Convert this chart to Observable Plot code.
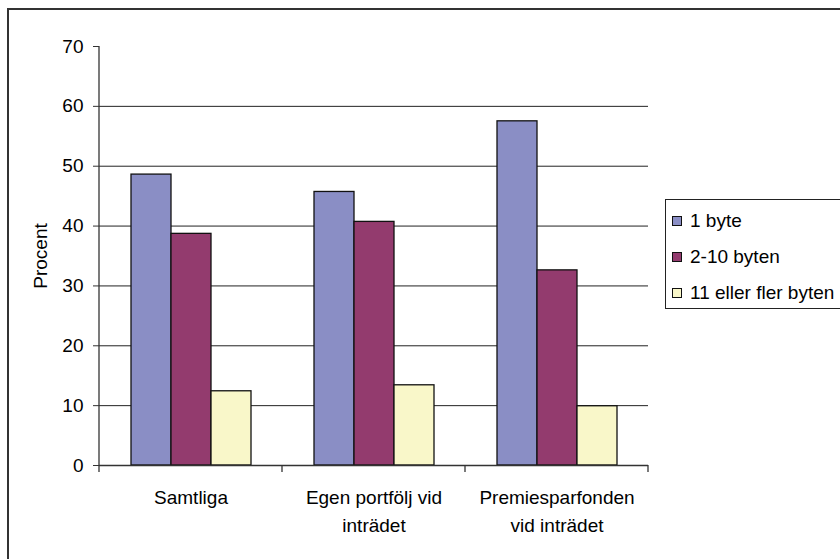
<!DOCTYPE html>
<html>
<head>
<meta charset="utf-8">
<script src="https://cdn.jsdelivr.net/npm/d3@7"></script>
<script src="https://cdn.jsdelivr.net/npm/@observablehq/plot@0.6"></script>
<style>
  html, body { margin: 0; padding: 0; background: #fff; }
  #wrap { position: relative; width: 840px; height: 559px; overflow: hidden;
          font-family: "Liberation Sans", Arial, Helvetica, sans-serif; }
  #frame { position: absolute; left: 7px; top: 8px; width: 900px; height: 700px;
           border-left: 2px solid #333; border-top: 2px solid #333; box-sizing: border-box; }
  #chart { position: absolute; left: 0; top: 0; }
  #legend { position: absolute; left: 665px; top: 199px; width: 220px; height: 110px;
            border: 1px solid #222; box-sizing: border-box; background: #fff;
            padding: 3px 0 0 6px; }
  .row { height: 36px; line-height: 36px; font-size: 19px; color: #000; white-space: nowrap;
         display: flex; align-items: center; }
  .sw { width: 8px; height: 8px; border: 1px solid #111; margin-right: 8px; flex: none; }
</style>
</head>
<body>
<div id="wrap">
  <div id="frame"></div>
  <div id="chart"></div>
  <div id="legend"></div>
</div>
<script>
// ---- data ----
const categories = ["Samtliga", "Egen portfölj vid inträdet", "Premiesparfonden vid inträdet"];
const tickLabels = ["Samtliga", "Egen portfölj vid\ninträdet", "Premiesparfonden\nvid inträdet"];
const series = ["1 byte", "2-10 byten", "11 eller fler byten"];
const colors = ["#8A8EC5", "#933B6E", "#F9F7C9"];
const values1Byte = [48.6, 45.7, 57.5];
const values2to10 = [38.7, 40.7, 32.6];
const values11plus = [12.4, 13.4, 9.9];
const yTicks = [0, 10, 20, 30, 40, 50, 60, 70];
const gridTicks = [10, 20, 30, 40, 50, 60];

const seriesValues = [values1Byte, values2to10, values11plus];
const rows = [];
categories.forEach((c, i) => {
  series.forEach((s, j) => rows.push({category: c, series: s, value: seriesValues[j][i]}));
});

const chart = Plot.plot({
  width: 840,
  height: 559,
  marginLeft: 99,
  marginRight: 192,
  marginTop: 46,
  marginBottom: 94,
  style: {fontFamily: "Liberation Sans, Arial, Helvetica, sans-serif", fontSize: "19px", color: "#000", background: "transparent", overflow: "visible"},
  fx: {domain: categories, padding: 0, label: null},
  x: {domain: series, paddingInner: 0, paddingOuter: 0.732, axis: null},
  y: {domain: [0, 70], label: null},
  color: {domain: series, range: colors},
  marks: [
    Plot.gridY(gridTicks, {stroke: "#222", strokeOpacity: 1, strokeWidth: 1}),
    Plot.barY(rows, {fx: "category", x: "series", y: "value", fill: "series", stroke: "#111", strokeWidth: 1.3}),
    Plot.ruleY([0], {stroke: "#333", strokeWidth: 1.3}),
    Plot.axisY({ticks: yTicks, tickSize: 6, tickPadding: 10, stroke: "#333", fill: "#000",
                label: "Procent", labelAnchor: "center", labelOffset: 66, labelArrow: "none"}),
    Plot.axisFx({anchor: "bottom", tickSize: 0, tickPadding: 19, lineHeight: 1.47, fill: "#000",
                 label: null, tickFormat: d => tickLabels[categories.indexOf(d)]})
  ]
});

document.getElementById("chart").appendChild(chart);

// axis line and category boundary ticks, positioned through Plot's own scales
const fx = chart.scale("fx");
const y = chart.scale("y");
const y0 = y.apply(0), yTop = y.apply(yTicks[yTicks.length - 1]);
const g = d3.select(chart).append("g").attr("stroke", "#333").attr("stroke-width", 1.3);
const xStart = fx.apply(categories[0]);
g.append("line").attr("x1", xStart).attr("x2", xStart).attr("y1", yTop).attr("y2", y0);
const edges = categories.map(c => fx.apply(c)).concat([fx.apply(categories[categories.length - 1]) + fx.bandwidth]);
g.selectAll("line.edge").data(edges).join("line").attr("class", "edge")
  .attr("x1", d => d).attr("x2", d => d).attr("y1", y0).attr("y2", y0 + 7);

// legend
const legend = d3.select("#legend");
series.forEach((s, j) => {
  const row = legend.append("div").attr("class", "row");
  row.append("div").attr("class", "sw").style("background", colors[j]);
  row.append("span").text(s);
});
</script>
</body>
</html>
